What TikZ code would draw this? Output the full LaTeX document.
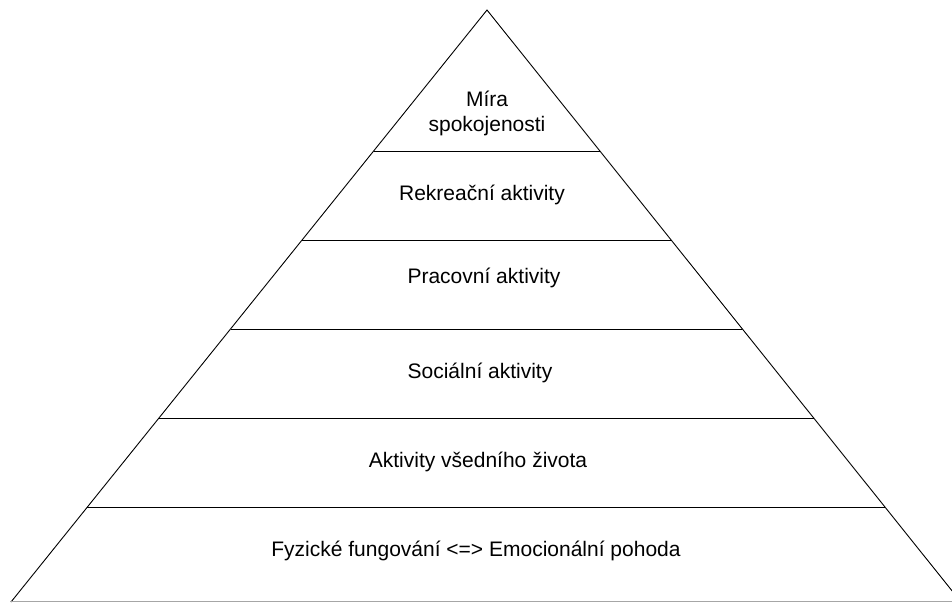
\documentclass[tikz,border=0pt]{standalone}
\usepackage{fontspec}
\setmainfont{Liberation Sans}
\usetikzlibrary{calc}

\begin{document}
\begin{tikzpicture}[
    x=1pt, y=-1pt,
    edge/.style={draw=black, line width=0.9pt},
    level/.style={font=\fontsize{21}{25}\selectfont, align=center, inner sep=0pt}
  ]
  \useasboundingbox (0,0) rectangle (952,603);
  \clip (0,0) rectangle (952,603);

  % Outline
  \coordinate (apex) at (487,10);
  \coordinate (bl) at (11,602);
  \coordinate (br) at (961,602);
  \coordinate (bl0) at (10,601.5);
  \coordinate (br0) at (952,601.5);
  \draw[edge] (bl) -- (apex) -- (br);
  \draw[gray!70, line width=1pt] (bl0) -- (br0);

  % Level dividers
  \foreach \y [count=\i] in {151,240,329,418,507} {
    \pgfmathsetmacro{\t}{(\y-10)/592}
    \coordinate (l\i) at ($(apex)!\t!(bl)$);
    \coordinate (r\i) at ($(apex)!\t!(br)$);
    \draw[edge] (l\i) -- (r\i);
  }

  % Labels
  \node[level] (top) at (487,113) {Míra\\spokojenosti};
  \node[level] (rekr) at (482,195) {Rekreační aktivity};
  \node[level] (prac) at (484,278) {Pracovní aktivity};
  \node[level] (soc) at (480,373) {Sociální aktivity};
  \node[level] (vsed) at (478,462) {Aktivity všedního života};
  \node[level] (fyz) at (476,551) {Fyzické fungování <=> Emocionální pohoda};
\end{tikzpicture}
\end{document}
